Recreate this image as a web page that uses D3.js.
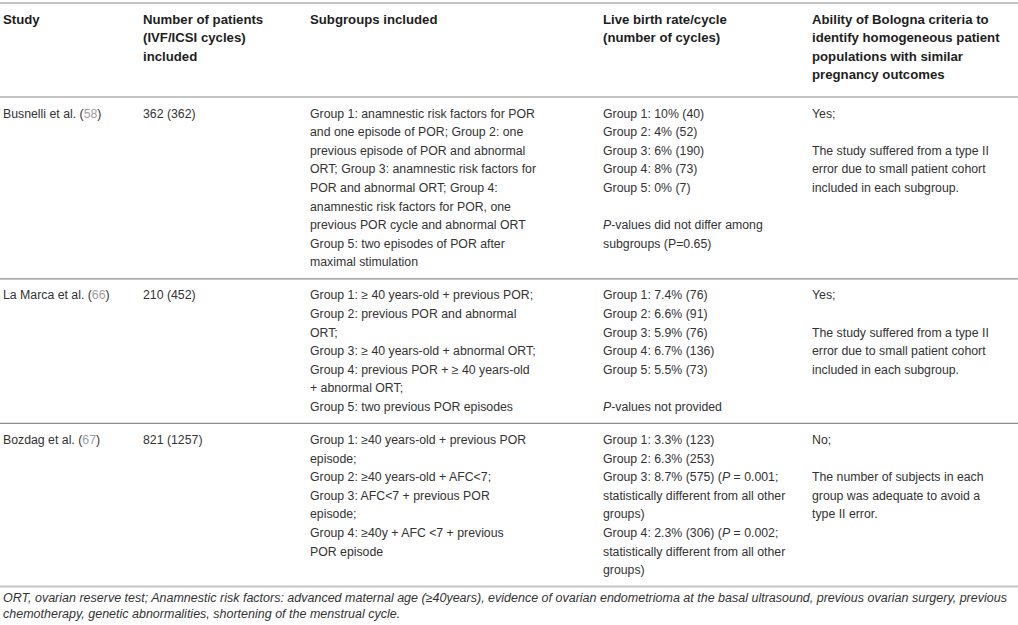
<html>
<head>
<style>
  body { margin: 0; background: #fff; }
  svg { display: block; }
  text { font-family: "Liberation Sans", Arial, sans-serif; }
</style>
</head>
<body>
<svg id="chart" width="1018" height="625"></svg>
<script src="https://cdn.jsdelivr.net/npm/d3@7"></script>
<script>
// table content, one array per column
// *..* = italic, {..} = reference number (grey)
const headers = [
  ["Study"],
  ["Number of patients", "(IVF/ICSI cycles)", "included"],
  ["Subgroups included"],
  ["Live birth rate/cycle", "(number of cycles)"],
  ["Ability of Bologna criteria to", "identify homogeneous patient", "populations with similar", "pregnancy outcomes"]
]

const studies = ["Busnelli et al. ({58})", "La Marca et al. ({66})", "Bozdag et al. ({67})"]

const patients = ["362 (362)", "210 (452)", "821 (1257)"]

const subgroups = [
  ["Group 1: anamnestic risk factors for POR",
   "and one episode of POR; Group 2: one",
   "previous episode of POR and abnormal",
   "ORT; Group 3: anamnestic risk factors for",
   "POR and abnormal ORT; Group 4:",
   "anamnestic risk factors for POR, one",
   "previous POR cycle and abnormal ORT",
   "Group 5: two episodes of POR after",
   "maximal stimulation"],
  ["Group 1: \u2265 40 years-old + previous POR;",
   "Group 2: previous POR and abnormal",
   "ORT;",
   "Group 3: \u2265 40 years-old + abnormal ORT;",
   "Group 4: previous POR + \u2265 40 years-old",
   "+ abnormal ORT;",
   "Group 5: two previous POR episodes"],
  ["Group 1: \u226540 years-old + previous POR",
   "episode;",
   "Group 2: \u226540 years-old + AFC<7;",
   "Group 3: AFC<7 + previous POR",
   "episode;",
   "Group 4: \u226540y + AFC <7 + previous",
   "POR episode"]
]

const liveBirth = [
  ["Group 1: 10% (40)", "Group 2: 4% (52)", "Group 3: 6% (190)", "Group 4: 8% (73)", "Group 5: 0% (7)", "",
   "*P*-values did not differ among", "subgroups (P=0.65)"],
  ["Group 1: 7.4% (76)", "Group 2: 6.6% (91)", "Group 3: 5.9% (76)", "Group 4: 6.7% (136)", "Group 5: 5.5% (73)", "",
   "*P*-values not provided"],
  ["Group 1: 3.3% (123)", "Group 2: 6.3% (253)",
   "Group 3: 8.7% (575) (*P* = 0.001;", "statistically different from all other", "groups)",
   "Group 4: 2.3% (306) (*P* = 0.002;", "statistically different from all other", "groups)"]
]

const ability = [
  ["Yes;", "", "The study suffered from a type II", "error due to small patient cohort", "included in each subgroup."],
  ["Yes;", "", "The study suffered from a type II", "error due to small patient cohort", "included in each subgroup."],
  ["No;", "", "The number of subjects in each", "group was adequate to avoid a", "type II error."]
]

const footnote = [
  "*ORT, ovarian reserve test; Anamnestic risk factors: advanced maternal age (\u226540years), evidence of ovarian endometrioma at the basal ultrasound, previous ovarian surgery, previous*",
  "*chemotherapy, genetic abnormalities, shortening of the menstrual cycle.*"
]

const width = 1018, height = 625
const lineH = 18.6
const padTop = 16, padBottom = 17

const svg = d3.select("#chart")
svg.append("rect").attr("width", width).attr("height", height).attr("fill", "#fff")

let x = d3.scaleOrdinal()
  .domain(["study", "patients", "subgroups", "live", "ability"])
  .range([3, 143, 310, 603, 812])

// rows: header + 3 data rows
let rows = [{
  cells: [headers[0], headers[1], headers[2], headers[3], headers[4]],
  header: true
}]
for (let i = 0; i < studies.length; i++) {
  rows.push({
    cells: [[studies[i]], [patients[i]], subgroups[i], liveBirth[i], ability[i]],
    header: false
  })
}

// vertical positions from line counts
let yPos = 3
let rules = [{ y: 3, heavy: true }]
rows.forEach((r, i) => {
  r.n = d3.max(r.cells, c => c.length)
  r.first = yPos + padTop
  yPos = r.first + (r.n - 1) * lineH + (r.header ? 22.2 : padBottom)
  rules.push({ y: yPos, heavy: i == 0 || i == rows.length - 1 })
})

function rich(sel, str) {
  let parts = str.split(/(\*[^*]+\*|\{[^}]+\})/).filter(p => p.length)
  for (let p of parts) {
    let t = sel.append("tspan")
    if (p[0] == "*") {
      t.text(p.slice(1, -1)).attr("font-style", "italic")
    } else if (p[0] == "{") {
      t.text(p.slice(1, -1)).attr("fill", "#a0a0a0")
    } else {
      t.text(p)
    }
  }
}

let cols = x.domain()
rows.forEach(r => {
  let y = d3.scaleLinear().domain([0, 1]).range([r.first, r.first + lineH])
  r.cells.forEach((lines, ci) => {
    lines.forEach((ln, li) => {
      if (!ln) return
      let t = svg.append("text")
        .attr("x", x(cols[ci]))
        .attr("y", y(li) + 4.5)
        .attr("font-size", r.header ? 13.2 : 12.3)
        .attr("font-weight", r.header ? "bold" : "normal")
        .attr("fill", r.header ? "#1e1e1e" : "#333")
      rich(t, ln)
    })
  })
})

svg.selectAll("line.rule").data(rules)
  .enter().append("line")
  .attr("class", "rule")
  .attr("x1", 0).attr("x2", width)
  .attr("y1", d => d.y).attr("y2", d => d.y)
  .attr("stroke", d => d.heavy ? "#c4c4c4" : "#8c8c8c")
  .attr("stroke-width", d => d.heavy ? 2 : 1.2)

let lastY = rules[rules.length - 1].y
svg.selectAll("text.foot").data(footnote)
  .enter().append("text")
  .attr("class", "foot")
  .attr("x", 3)
  .attr("y", (d, i) => lastY + 15.5 + i * 16)
  .attr("font-size", 12.5)
  .attr("fill", "#333")
  .each(function (d) { rich(d3.select(this), d) })
</script>
</body>
</html>
